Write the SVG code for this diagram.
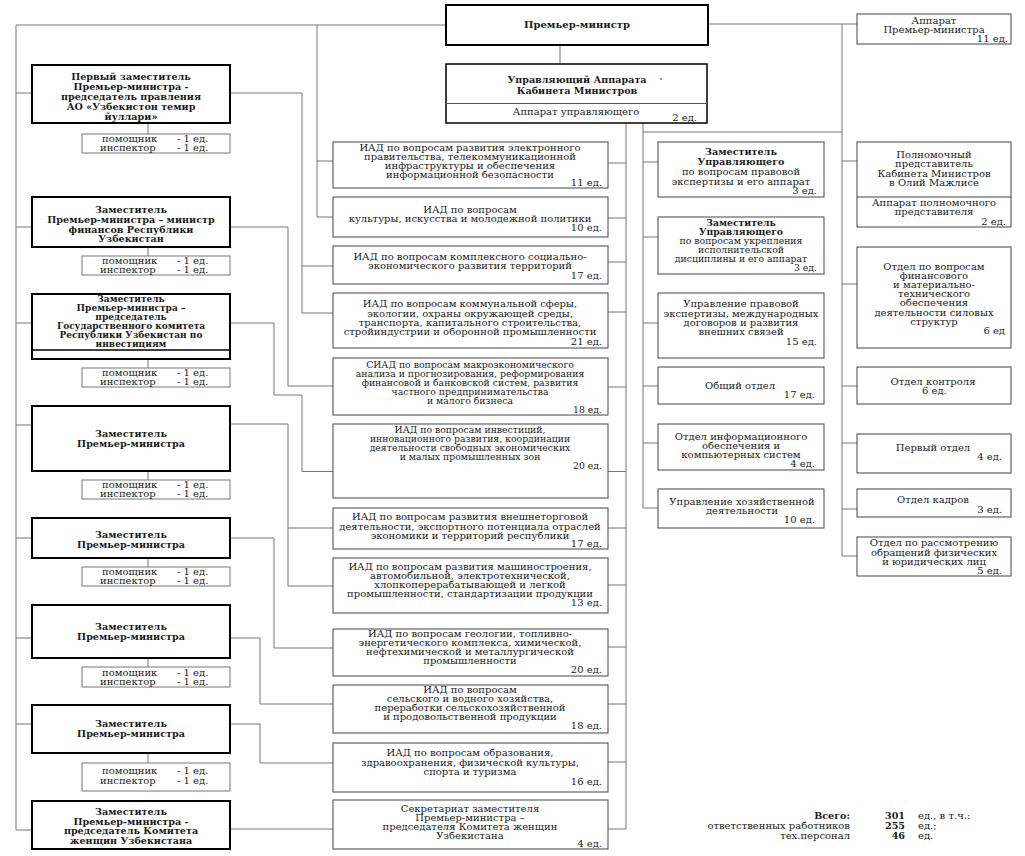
<svg xmlns="http://www.w3.org/2000/svg" width="1025" height="856" viewBox="0 0 1025 856">
<style>
text{font-family:"DejaVu Serif","Liberation Serif",serif;font-size:10px;fill:#1a1a1a}
.c{text-anchor:middle}
.r{text-anchor:end}
.b{font-weight:bold;font-size:9.6px}
.s{font-size:9.3px}
.xs{font-size:9px}
.box{fill:#fff;stroke:#444;stroke-width:1}
.hb{fill:#fff;stroke:#777;stroke-width:1}
.tb{fill:#fff;stroke:#000;stroke-width:2}
.ln{fill:none;stroke:#777;stroke-width:1}
</style>
<rect width="1025" height="856" fill="#fff"/>
<g id="connectors" class="ln">
<path d="M16,25H446M16,25V830H32M16,93H32M16,227H32M16,323H32M16,425H32M16,538H32M16,638H32M16,724H32"/>
<path d="M317,25V217H333M317,161H333"/>
<path d="M230,93H302V313H333M302,266H333"/>
<path d="M230,227H288V386H333"/>
<path d="M230,323H274V395H302V471.5H626"/>
<path d="M230,424H288V586H333M288,528H333"/>
<path d="M230,538H274V648H333"/>
<path d="M230,638H260V704H333"/>
<path d="M230,724H260V763H333"/>
<path d="M230,829H333"/>
<path d="M560,45V64"/>
<path d="M148,123V134M148,247V256M148,359V368M148,471V480M148,558V567M148,658V667M148,753V763"/>
<path d="M626,123V829H608M608,163H626M608,218H626M608,262H626M608,312H626M608,387H626M608,528H626M608,585H626M608,647H626M608,704H626M608,762H626"/>
<path d="M643,123V508H658M643,162H658M643,237H658M643,323H658M643,386H658M643,443H658M643,132H842"/>
<path d="M708,24H857M842,24V556H857M842,161H857M842,284H857M842,386H857M842,443H857M842,509H857"/>
</g>
<g id="premier"><rect class="tb" x="446" y="5" width="262" height="40"/><text class="c b" x="577" y="28" style="font-size:10px">Премьер-министр</text></g>
<g id="upravl"><rect x="446" y="64" width="261" height="59" fill="#fff" stroke="#000" stroke-width="1.5"/><line x1="446" y1="103.5" x2="707" y2="103.5" stroke="#555"/><text class="c b" x="577" y="83">Управляющий Аппарата</text><text class="c b" x="577" y="94">Кабинета Министров</text><circle cx="661" cy="79" r="0.9" fill="#7060b0"/><text class="c" x="576" y="115">Аппарат управляющего</text><text class="r" x="697" y="121">2 ед.</text></g>
<g id="apparat-pm"><rect class="box" x="857" y="14" width="154" height="30"/><text class="c" x="934" y="24">Аппарат</text><text class="c" x="934" y="33">Премьер-министра</text><text class="r" x="1008" y="42">11 ед.</text></g>
<g id="dep1"><rect class="tb" x="32" y="65" width="198" height="58"/><text class="c b" x="131" y="80">Первый заместитель</text><text class="c b" x="131" y="90">Премьер-министра -</text><text class="c b" x="131" y="100">председатель правления</text><text class="c b" x="131" y="110">АО «Узбекистон темир</text><text class="c b" x="131" y="120">йуллари»</text></g>
<g id="help1"><rect class="hb" x="82" y="134" width="148" height="19"/><text x="102" y="142">помощник</text><text x="177" y="142">- 1 ед.</text><text x="100" y="151">инспектор</text><text x="177" y="151">- 1 ед.</text></g>
<g id="dep2"><rect class="tb" x="32" y="197" width="198" height="50"/><text class="c b" x="131" y="213">Заместитель</text><text class="c b" x="131" y="223">Премьер-министра – министр</text><text class="c b" x="131" y="233">финансов Республики</text><text class="c b" x="131" y="242">Узбекистан</text></g>
<g id="help2"><rect class="hb" x="82" y="256" width="148" height="19"/><text x="102" y="264">помощник</text><text x="177" y="264">- 1 ед.</text><text x="100" y="273">инспектор</text><text x="177" y="273">- 1 ед.</text></g>
<g id="dep3"><rect class="tb" x="32" y="294" width="198" height="65"/><line x1="32" y1="350" x2="230" y2="350" stroke="#000" stroke-width="1.5"/><text class="c b xs" x="131" y="301.5">Заместитель</text><text class="c b xs" x="131" y="310.5">Премьер-министра –</text><text class="c b xs" x="131" y="319.5">председатель</text><text class="c b xs" x="131" y="328.5">Государственного комитета</text><text class="c b xs" x="131" y="337.5">Республики Узбекистан по</text><text class="c b xs" x="131" y="346.5">инвестициям</text></g>
<g id="help3"><rect class="hb" x="82" y="368" width="148" height="19"/><text x="102" y="376">помощник</text><text x="177" y="376">- 1 ед.</text><text x="100" y="385">инспектор</text><text x="177" y="385">- 1 ед.</text></g>
<g id="dep4"><rect class="tb" x="32" y="406" width="198" height="65"/><text class="c b" x="131" y="437">Заместитель</text><text class="c b" x="131" y="447">Премьер-министра</text></g>
<g id="help4"><rect class="hb" x="82" y="480" width="148" height="19"/><text x="102" y="488">помощник</text><text x="177" y="488">- 1 ед.</text><text x="100" y="497">инспектор</text><text x="177" y="497">- 1 ед.</text></g>
<g id="dep5"><rect class="tb" x="32" y="518" width="198" height="40"/><text class="c b" x="131" y="538">Заместитель</text><text class="c b" x="131" y="548">Премьер-министра</text></g>
<g id="help5"><rect class="hb" x="82" y="567" width="148" height="19"/><text x="102" y="575">помощник</text><text x="177" y="575">- 1 ед.</text><text x="100" y="584">инспектор</text><text x="177" y="584">- 1 ед.</text></g>
<g id="dep6"><rect class="tb" x="32" y="605" width="198" height="53"/><text class="c b" x="131" y="630">Заместитель</text><text class="c b" x="131" y="640">Премьер-министра</text></g>
<g id="help6"><rect class="hb" x="82" y="667" width="148" height="20"/><text x="102" y="676">помощник</text><text x="177" y="676">- 1 ед.</text><text x="100" y="685">инспектор</text><text x="177" y="685">- 1 ед.</text></g>
<g id="dep7"><rect class="tb" x="32" y="705" width="198" height="48"/><text class="c b" x="131" y="727">Заместитель</text><text class="c b" x="131" y="737">Премьер-министра</text></g>
<g id="help7"><rect class="hb" x="82" y="763" width="148" height="28"/><text x="102" y="774">помощник</text><text x="177" y="774">- 1 ед.</text><text x="100" y="784">инспектор</text><text x="177" y="784">- 1 ед.</text></g>
<g id="dep8"><rect class="tb" x="32" y="801" width="198" height="48"/><text class="c b" x="131" y="815">Заместитель</text><text class="c b" x="131" y="825">Премьер-министра -</text><text class="c b" x="131" y="834">председатель Комитета</text><text class="c b" x="131" y="844">женщин Узбекистана</text></g>
<g id="iad1"><rect class="box" x="333" y="142" width="275" height="46"/><text class="c" x="470" y="151">ИАД по вопросам развития электронного</text><text class="c" x="470" y="160">правительства, телекоммуникационной</text><text class="c" x="470" y="169">инфраструктуры и обеспечения</text><text class="c" x="470" y="178">информационной безопасности</text><text class="r" x="602" y="186">11 ед.</text></g>
<g id="iad2"><rect class="box" x="333" y="197" width="275" height="40"/><text class="c" x="470" y="213">ИАД по вопросам</text><text class="c" x="470" y="222">культуры, искусства и молодежной политики</text><text class="r" x="602" y="231">10 ед.</text></g>
<g id="iad3"><rect class="box" x="333" y="246" width="275" height="38"/><text class="c" x="470" y="260">ИАД по вопросам комплексного социально-</text><text class="c" x="470" y="269">экономического развития территорий</text><text class="r" x="602" y="279">17 ед.</text></g>
<g id="iad4"><rect class="box" x="333" y="293" width="275" height="55"/><text class="c" x="470" y="307">ИАД по вопросам коммунальной сферы,</text><text class="c" x="470" y="317">экологии, охраны окружающей среды,</text><text class="c" x="470" y="326">транспорта, капитального строительства,</text><text class="c" x="470" y="335">стройиндустрии и оборонной промышленности</text><text class="r" x="602" y="345">21 ед.</text></g>
<g id="siad"><rect class="box" x="333" y="358" width="275" height="57"/><text class="c s" x="470" y="368">СИАД по вопросам макроэкономического</text><text class="c s" x="470" y="377">анализа и прогнозирования, реформирования</text><text class="c s" x="470" y="386">финансовой и банковской систем, развития</text><text class="c s" x="470" y="395">частного предпринимательства</text><text class="c s" x="470" y="404">и малого бизнеса</text><text class="r s" x="602" y="413">18 ед.</text></g>
<g id="iad-invest"><rect class="box" x="333" y="424" width="275" height="74"/><text class="c s" x="470" y="433">ИАД по вопросам инвестиций,</text><text class="c s" x="470" y="442">инновационного развития, координации</text><text class="c s" x="470" y="451">деятельности свободных экономических</text><text class="c s" x="470" y="460">и малых промышленных зон</text><text class="r s" x="602" y="469">20 ед.</text></g>
<g id="iad-vnesh"><rect class="box" x="333" y="508" width="275" height="41"/><text class="c" x="470" y="520">ИАД по вопросам развития внешнеторговой</text><text class="c" x="470" y="529.5">деятельности, экспортного потенциала отраслей</text><text class="c" x="470" y="538.5">экономики и территорий республики</text><text class="r" x="602" y="547">17 ед.</text></g>
<g id="iad-mash"><rect class="box" x="333" y="558" width="275" height="55"/><text class="c" x="470" y="570">ИАД по вопросам развития машиностроения,</text><text class="c" x="470" y="579">автомобильной, электротехнической,</text><text class="c" x="470" y="588">хлопкоперерабатывающей и легкой</text><text class="c" x="470" y="597">промышленности, стандартизации продукции</text><text class="r" x="602" y="606">13 ед.</text></g>
<g id="iad-geo"><rect class="box" x="333" y="629" width="275" height="47"/><text class="c" x="470" y="637">ИАД по вопросам геологии, топливно-</text><text class="c" x="470" y="646">энергетического комплекса, химической,</text><text class="c" x="470" y="655">нефтехимической и металлургической</text><text class="c" x="470" y="664">промышленности</text><text class="r" x="602" y="673">20 ед.</text></g>
<g id="iad-selsk"><rect class="box" x="333" y="685" width="275" height="48"/><text class="c" x="470" y="693">ИАД по вопросам</text><text class="c" x="470" y="702">сельского и водного хозяйства,</text><text class="c" x="470" y="711">переработки сельскохозяйственной</text><text class="c" x="470" y="720">и продовольственной продукции</text><text class="r" x="602" y="729">18 ед.</text></g>
<g id="iad-obraz"><rect class="box" x="333" y="743" width="275" height="49"/><text class="c" x="470" y="756">ИАД по вопросам образования,</text><text class="c" x="470" y="766">здравоохранения, физической культуры,</text><text class="c" x="470" y="775">спорта и туризма</text><text class="r" x="602" y="785">16 ед.</text></g>
<g id="sekretariat"><rect class="box" x="333" y="800" width="275" height="49"/><text class="c" x="470" y="812">Секретариат заместителя</text><text class="c" x="470" y="821">Премьер-министра –</text><text class="c" x="470" y="830">председателя Комитета женщин</text><text class="c" x="470" y="839">Узбекистана</text><text class="r" x="602" y="847">4 ед.</text></g>
<g id="zu1"><rect class="box" x="658" y="142" width="166" height="55"/><text class="c b" x="741" y="155">Заместитель</text><text class="c b" x="741" y="165">Управляющего</text><text class="c" x="741" y="175">по вопросам правовой</text><text class="c" x="741" y="185">экспертизы и его аппарат</text><text class="r" x="817" y="194">3 ед.</text></g>
<g id="zu2"><rect class="box" x="658" y="217" width="166" height="57"/><text class="c b s" x="741" y="226">Заместитель</text><text class="c b s" x="741" y="235">Управляющего</text><text class="c s" x="741" y="244">по вопросам укрепления</text><text class="c s" x="741" y="253">исполнительской</text><text class="c s" x="741" y="262">дисциплины и его аппарат</text><text class="r s" x="817" y="271">3 ед.</text></g>
<g id="upr-prav"><rect class="box" x="658" y="293" width="166" height="65"/><text class="c" x="741" y="307">Управление правовой</text><text class="c" x="741" y="317">экспертизы, международных</text><text class="c" x="741" y="326">договоров и развития</text><text class="c" x="741" y="335">внешних связей</text><text class="r" x="817" y="345">15 ед.</text></g>
<g id="obshiy"><rect class="box" x="658" y="367" width="166" height="37"/><text class="c" x="740" y="389">Общий отдел</text><text class="r" x="815" y="398">17 ед.</text></g>
<g id="inform"><rect class="box" x="658" y="424" width="166" height="46"/><text class="c" x="741" y="440">Отдел информационного</text><text class="c" x="741" y="449">обеспечения и</text><text class="c" x="741" y="458">компьютерных систем</text><text class="r" x="815" y="467">4 ед.</text></g>
<g id="hoz"><rect class="box" x="658" y="489" width="166" height="39"/><text class="c" x="742" y="505">Управление хозяйственной</text><text class="c" x="742" y="514">деятельности</text><text class="r" x="815" y="523">10 ед.</text></g>
<g id="polnomoch"><rect class="box" x="857" y="142" width="154" height="85"/><line x1="857" y1="197" x2="1011" y2="197" stroke="#444"/><text class="c" x="934" y="158">Полномочный</text><text class="c" x="934" y="167">представитель</text><text class="c" x="934" y="177">Кабинета Министров</text><text class="c" x="934" y="186">в Олий Мажлисе</text><text class="c" x="934" y="206">Аппарат полномочного</text><text class="c" x="934" y="215">представителя</text><text class="r" x="1006" y="225">2 ед.</text></g>
<g id="fin-otdel"><rect class="box" x="857" y="247" width="154" height="101"/><text class="c" x="934" y="270">Отдел по вопросам</text><text class="c" x="934" y="279">финансового</text><text class="c" x="934" y="288">и материально-</text><text class="c" x="934" y="297">технического</text><text class="c" x="934" y="306">обеспечения</text><text class="c" x="934" y="316">деятельности силовых</text><text class="c" x="934" y="325">структур</text><text class="r" x="1005" y="334">6 ед</text></g>
<g id="kontrol"><rect class="box" x="857" y="367" width="154" height="37"/><text class="c" x="933" y="385">Отдел контроля</text><text x="922" y="394">6 ед.</text></g>
<g id="perviy"><rect class="box" x="857" y="434" width="154" height="39"/><text class="c" x="933" y="451">Первый отдел</text><text class="r" x="1002" y="460">4 ед.</text></g>
<g id="kadry"><rect class="box" x="857" y="489" width="154" height="28"/><text class="c" x="933" y="503">Отдел кадров</text><text class="r" x="1002" y="513">3 ед.</text></g>
<g id="obrash"><rect class="box" x="857" y="537" width="154" height="39"/><text class="c" x="934" y="546">Отдел по рассмотрению</text><text class="c" x="934" y="556">обращений физических</text><text class="c" x="934" y="565">и юридических лиц</text><text class="r" x="1002" y="574">5 ед.</text></g>
<g id="totals"><text class="r b" x="850" y="819">Всего:</text><text class="r b" x="905" y="819">301</text><text x="918" y="819">ед., в т.ч.:</text><text class="r" x="850" y="829">ответственных работников</text><text class="r b" x="905" y="829">255</text><text x="918" y="829">ед.;</text><text class="r" x="850" y="839">тех.персонал</text><text class="r b" x="905" y="839">46</text><text x="918" y="839">ед.</text></g>
</svg>
